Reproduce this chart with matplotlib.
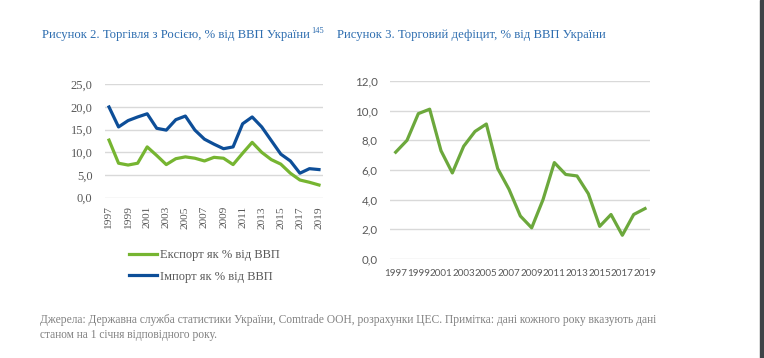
import matplotlib.pyplot as plt
from matplotlib.patches import Rectangle

years = list(range(1997, 2020))

# % of Ukraine GDP, trade with Russia
export_pct = [12.7, 7.6, 7.2, 7.6, 11.2, 9.3, 7.3, 8.6, 9.0, 8.7, 8.1, 8.9, 8.7,
              7.3, 9.8, 12.2, 10.0, 8.4, 7.4, 5.4, 3.9, 3.4, 2.8]
import_pct = [20.0, 15.6, 17.0, 17.8, 18.5, 15.3, 14.9, 17.2, 18.0, 14.9, 12.9, 11.8, 10.8,
              11.2, 16.3, 17.8, 15.6, 12.6, 9.6, 8.1, 5.4, 6.4, 6.2]

# trade deficit, % of GDP
deficit_pct = [7.2, 8.0, 9.8, 10.1, 7.3, 5.8, 7.6, 8.6, 9.1, 6.1, 4.7, 2.9, 2.1,
               4.0, 6.5, 5.7, 5.6, 4.4, 2.2, 3.0, 1.6, 3.0, 3.4]

left_yticks = [0, 5, 10, 15, 20, 25]
right_yticks = [0, 2, 4, 6, 8, 10, 12]

green = '#76B531'
green2 = '#6CA83C'
blue = '#0D4E98'
title_blue = '#2F6EB0'
grid_c = '#D9D9D9'
tick_c = '#595959'

fig = plt.figure(figsize=(7.64, 3.58), dpi=100)

# titles
fig.text(42 / 764, 1 - 35 / 358, 'Рисунок 2. Торгівля з Росією, % від ВВП України',
         color=title_blue, fontsize=9.2, family='Liberation Serif', va='center')
fig.text(311 / 764, 1 - 31 / 358, '145',
         color=title_blue, fontsize=6, family='Liberation Serif', va='center')
fig.text(337 / 764, 1 - 35 / 358, 'Рисунок 3. Торговий дефіцит, % від ВВП України',
         color=title_blue, fontsize=9.2, family='Liberation Serif', va='center')

# left chart
ax1 = fig.add_axes([105 / 764, 1 - 197.7 / 358, 218 / 764, 113.4 / 358])
ax1.plot(years, export_pct, color=green, lw=2.3, label='Експорт як % від ВВП')
ax1.plot(years, import_pct, color=blue, lw=2.3, label='Імпорт як % від ВВП')
ax1.set_ylim(0, 25)
ax1.set_xlim(1996.58, 2019.42)
ax1.set_yticks(left_yticks)
ax1.set_yticklabels([f'{v:.1f}'.replace('.', ',') for v in left_yticks],
                    family='Liberation Serif', fontsize=9, color=tick_c)
ax1.set_xticks(years[::2])
ax1.set_xticklabels([str(y) for y in years[::2]], rotation=90,
                    family='Liberation Serif', fontsize=8.2, color=tick_c)
ax1.grid(axis='y', color=grid_c, lw=1)
ax1.set_axisbelow(True)
for s in ax1.spines.values():
    s.set_visible(False)
ax1.tick_params(axis='y', length=0, pad=9)
ax1.tick_params(axis='x', length=0, pad=6)
leg = ax1.legend(loc='upper left', bbox_to_anchor=(118 / 764, 1 - 238 / 358),
                 bbox_transform=fig.transFigure, frameon=False, handlelength=2.2,
                 handletextpad=0.25, labelspacing=0.75,
                 prop={'family': 'Liberation Serif', 'size': 9})
for t in leg.get_texts():
    t.set_color(tick_c)

# right chart
ax2 = fig.add_axes([390 / 764, 1 - 259 / 358, 260 / 764, 178 / 358])
ax2.plot(years, deficit_pct, color=green2, lw=2.3)
ax2.set_ylim(0, 12)
ax2.set_xlim(1996.5, 2019.44)
ax2.set_yticks(right_yticks)
ax2.set_yticklabels([f'{v:.1f}'.replace('.', ',') for v in right_yticks],
                    family='Lato', fontsize=8.3, color=tick_c)
ax2.set_xticks(years[::2])
ax2.set_xticklabels([str(y) for y in years[::2]], family='Lato', fontsize=7.1, color=tick_c)
ax2.grid(axis='y', color=grid_c, lw=1)
ax2.set_axisbelow(True)
for s in ax2.spines.values():
    s.set_visible(False)
ax2.tick_params(axis='y', length=0, pad=9)
ax2.tick_params(axis='x', length=0, pad=7)

# source note
note_c = '#808080'
fig.text(40 / 764, 1 - 320 / 358,
         'Джерела: Державна служба статистики України, Comtrade ООН, розрахунки ЦЕС. '
         'Примітка: дані кожного року вказують дані',
         color=note_c, fontsize=8.3, family='Liberation Serif', va='center')
fig.text(40 / 764, 1 - 335 / 358, 'станом на 1 січня відповідного року.',
         color=note_c, fontsize=8.3, family='Liberation Serif', va='center')

# dark strip at right edge
fig.patches.append(Rectangle((760 / 764, 0), 4 / 764, 1, transform=fig.transFigure,
                             color='#3F4347', zorder=5))

fig.savefig('out.png', dpi=100)
